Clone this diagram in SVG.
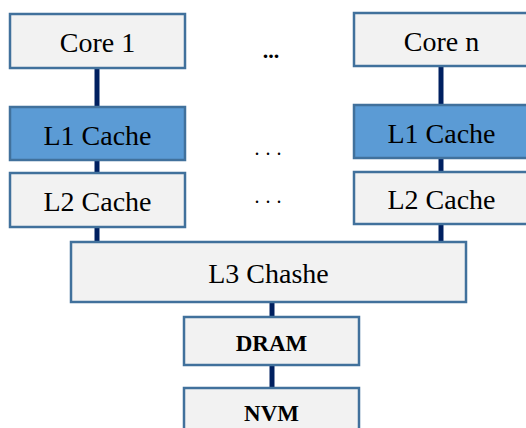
<svg xmlns="http://www.w3.org/2000/svg" width="526" height="428" viewBox="0 0 526 428" font-family="Liberation Serif, serif">
<style>
.box{fill:#f2f2f2;stroke:#41719c;stroke-width:2.5}
.l1{fill:#5b9bd5;stroke:#41719c;stroke-width:2.5}
.t{font-size:28px;fill:#000;text-anchor:middle}
.b{font-size:23px;font-weight:bold;fill:#000;text-anchor:middle}
.c{stroke:#002060;stroke-width:5;fill:none}
.d{fill:#000;text-anchor:middle}
</style>
<rect width="526" height="428" fill="#fff"/>
<g id="connectors">
<line class="c" x1="97" y1="68" x2="97" y2="107"/>
<line class="c" x1="97" y1="160" x2="97" y2="173"/>
<line class="c" x1="97" y1="227" x2="97" y2="242"/>
<line class="c" x1="441" y1="66" x2="441" y2="105"/>
<line class="c" x1="441" y1="158" x2="441" y2="172"/>
<line class="c" x1="441" y1="224" x2="441" y2="242"/>
<line class="c" x1="272" y1="302" x2="272" y2="317"/>
<line class="c" x1="272" y1="365" x2="272" y2="388"/>
</g>
<g id="core1"><rect class="box" x="10" y="14" width="175" height="54"/><text class="t" x="97.5" y="52">Core 1</text></g>
<g id="l1-left"><rect class="l1" x="10" y="107" width="175" height="53"/><text class="t" x="97.5" y="145">L1 Cache</text></g>
<g id="l2-left"><rect class="box" x="10" y="173" width="175" height="54"/><text class="t" x="97.5" y="211">L2 Cache</text></g>
<g id="coren"><rect class="box" x="354" y="13" width="175" height="53"/><text class="t" x="441.5" y="51">Core n</text></g>
<g id="l1-right"><rect class="l1" x="354" y="105" width="175" height="53"/><text class="t" x="441.5" y="143">L1 Cache</text></g>
<g id="l2-right"><rect class="box" x="354" y="172" width="175" height="52"/><text class="t" x="441.5" y="209">L2 Cache</text></g>
<g id="l3"><rect class="box" x="71" y="242" width="395" height="60"/><text class="t" x="268.5" y="283">L3 Chashe</text></g>
<g id="dram"><rect class="box" x="184" y="317" width="175" height="48"/><text class="b" x="271.5" y="351">DRAM</text></g>
<g id="nvm"><rect class="box" x="184" y="388" width="175" height="50"/><text class="b" x="271.5" y="421">NVM</text></g>
<g id="dots">
<text class="d" x="271" y="58" font-size="22" font-weight="bold">...</text>
<text class="d" x="271" y="155" font-size="20" letter-spacing="6">...</text>
<text class="d" x="271" y="203" font-size="20" letter-spacing="6">...</text>
</g>
</svg>
